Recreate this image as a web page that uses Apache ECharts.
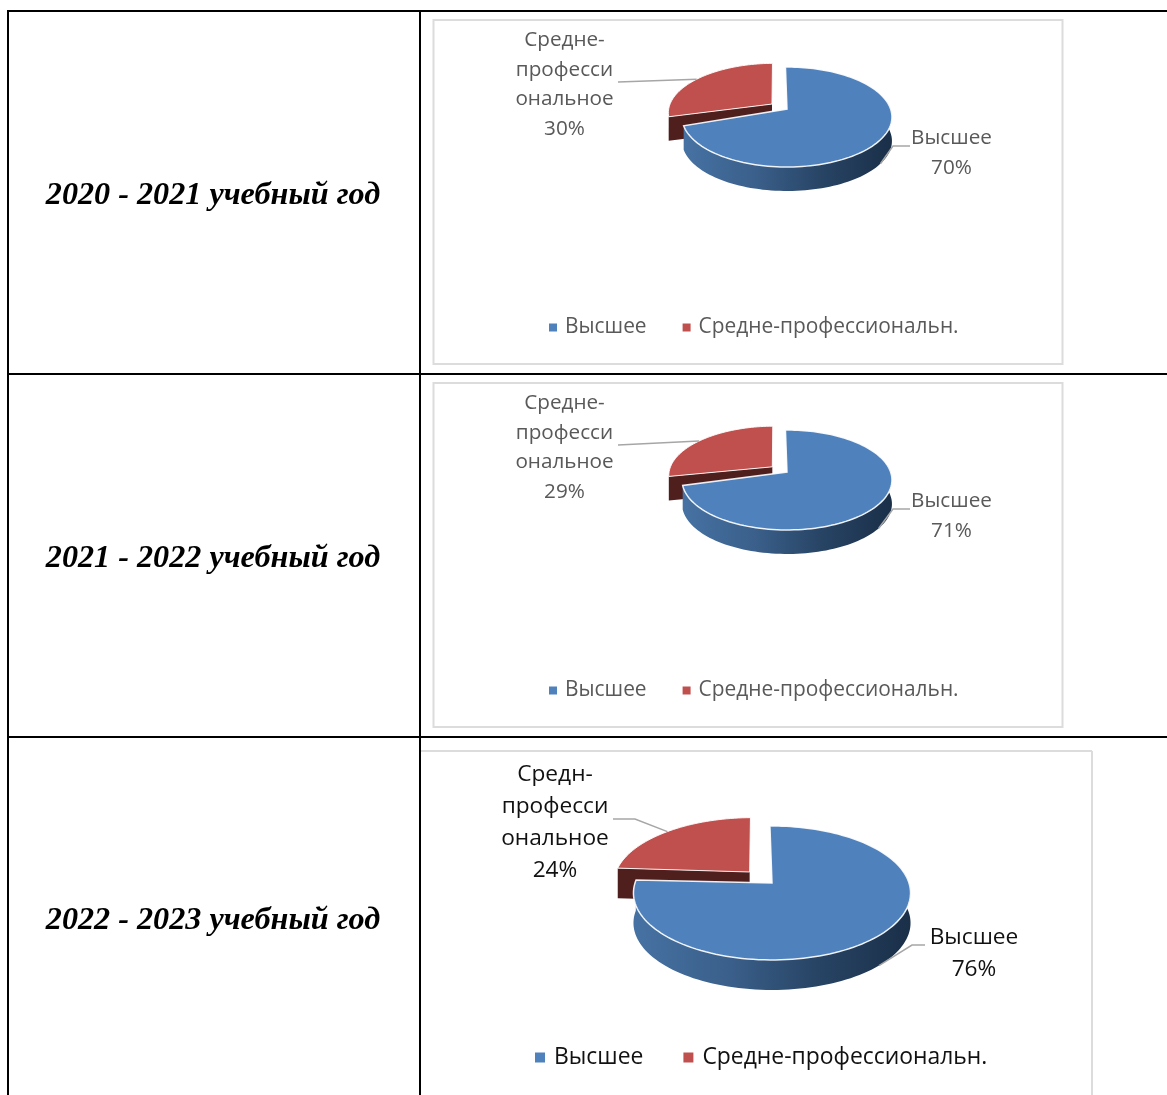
<!DOCTYPE html>
<html><head><meta charset="utf-8">
<style>html,body{margin:0;padding:0;background:#fff;overflow:hidden}#c{width:1167px;height:1095px}</style>
<script src="https://cdn.jsdelivr.net/npm/echarts@6/dist/echarts.min.js"></script>
</head><body><div id="c"></div>
<script>
// ---------- data ----------
const years = ['2020 - 2021 учебный год', '2021 - 2022 учебный год', '2022 - 2023 учебный год'];
const seriesNames = ['Высшее', 'Средне-профессиональн.'];
const higherValues = [70, 71, 76];
const vocationalValues = [30, 29, 24];
const vocationalLabels = [
  ['Средне-', 'професси', 'ональное'],
  ['Средне-', 'професси', 'ональное'],
  ['Средн-', 'професси', 'ональное']
];

// ---------- layout ----------
const small = { ax: 787, ay: 109, a: 103.6, b: 48.7, c: 0.16, depth: 24, explode: 0.18, font: 20.7, lh: 29.4, color: '#595959', redNudge: 4 };
const layouts = [
  Object.assign({}, small, { blueLabel: [951.5, 138.5], redLabel: [564.5, 40.5], blueElbow: [[910, 146], [893, 146]], redElbow: [[618, 82]] }),
  Object.assign({}, small, { ay: 472, blueLabel: [951.5, 501.5], redLabel: [564.5, 403.5], blueElbow: [[910, 509], [893, 509]], redElbow: [[618, 445]] }),
  { ax: 772, ay: 883, a: 137, b: 65.5, c: 0.149, depth: 30, explode: 0.24, font: 22.7, lh: 32, color: '#111111', redNudge: 1,
    blueLabel: [974, 938], redLabel: [555, 775], blueElbow: [[925, 945], [912, 945]], redElbow: [[613, 819], [635, 819]] }
];
const startDeg = -1;
const BLUE = '#4f81bd', RED = '#c0504d', RED_WALL = '#4f1f1e', LEADER = '#a6a6a6';
const FONT = '"Open Sans", sans-serif';
const rad = d => d * Math.PI / 180;

function project(L, u, v, dy) {
  const k = 1 - L.c * v;
  return [L.ax + L.a * u / k, L.ay + L.b * v / k + (dy || 0)];
}
function rimPoint(L, deg, off, dy) {
  return project(L, Math.sin(rad(deg)) + off[0], -Math.cos(rad(deg)) + off[1], dy);
}
function arc(L, from, to, off, dy) {
  const pts = [], n = Math.max(2, Math.ceil(Math.abs(to - from) / 2));
  for (let i = 0; i <= n; i++) pts.push(rimPoint(L, from + (to - from) * i / n, off, dy));
  return pts;
}
function labelChildren(L, lines, pos) {
  return lines.map((t, i) => ({
    type: 'text',
    style: { text: t, x: pos[0], y: pos[1] + i * L.lh, fill: L.color, font: L.font + 'px ' + FONT, textAlign: 'center', textVerticalAlign: 'middle' }
  }));
}
function leader(pts) {
  return { type: 'polyline', shape: { points: pts }, style: { fill: 'none', stroke: LEADER, lineWidth: 1.5 } };
}

function renderHigher(chartIdx) {
  return function (params, api) {
    const L = layouts[chartIdx], value = api.value(0);
    const total = value + vocationalValues[chartIdx];
    const end = startDeg + value / total * 360;
    const off = [0, 0];
    const wallTo = Math.min(end, 272);
    const top = arc(L, 80, wallTo, off, 0);
    const bottom = arc(L, 80, wallTo, off, L.depth).reverse();
    const apex = project(L, 0, 0);
    const face = [apex].concat(arc(L, startDeg, end, off, 0));
    const mid = startDeg + (end - startDeg) / 2;
    const anchor = rimPoint(L, mid, off, L.depth);
    return { type: 'group', children: [
      { type: 'polygon', shape: { points: top.concat(bottom) },
        style: { fill: new echarts.graphic.LinearGradient(0, 0, 1, 0, [
          { offset: 0, color: '#4672a3' }, { offset: 0.35, color: '#3a5f8a' },
          { offset: 0.65, color: '#284566' }, { offset: 1, color: '#1a2f48' }]) } },
      { type: 'polygon', shape: { points: face }, style: { fill: BLUE, stroke: 'rgba(255,255,255,0.9)', lineWidth: 1.5 } },
      leader(L.blueElbow.concat([anchor]))
    ].concat(labelChildren(L, [seriesNames[0], value + '%'], L.blueLabel)) };
  };
}
function renderVocational(chartIdx) {
  return function (params, api) {
    const L = layouts[chartIdx], value = api.value(0);
    const total = value + higherValues[chartIdx];
    const rawStart = startDeg + higherValues[chartIdx] / total * 360;
    const end = startDeg + 360;
    const mid = (rawStart + end) / 2;
    const start = rawStart + L.redNudge;
    const off = [L.explode * Math.sin(rad(mid)), -L.explode * Math.cos(rad(mid))];
    const apex = project(L, off[0], off[1]);
    const apexLow = project(L, off[0], off[1], L.depth);
    const edge = rimPoint(L, start, off, 0);
    const edgeLow = rimPoint(L, start, off, L.depth);
    const face = [apex].concat(arc(L, start, end, off, 0));
    const anchor = rimPoint(L, mid, off, 0);
    return { type: 'group', children: [
      { type: 'polygon', shape: { points: [apex, edge, edgeLow, apexLow] }, style: { fill: RED_WALL } },
      { type: 'polygon', shape: { points: face }, style: { fill: RED, stroke: 'rgba(255,255,255,0.9)', lineWidth: 1 } },
      leader(L.redElbow.concat([anchor]))
    ].concat(labelChildren(L, vocationalLabels[chartIdx].concat([value + '%']), L.redLabel)) };
  };
}

const series = [];
years.forEach((y, i) => {
  series.push({ type: 'custom', coordinateSystem: 'none', name: seriesNames[1], silent: true,
    itemStyle: { color: RED }, renderItem: renderVocational(i), data: [[vocationalValues[i]]] });
  series.push({ type: 'custom', coordinateSystem: 'none', name: seriesNames[0], silent: true,
    itemStyle: { color: BLUE }, renderItem: renderHigher(i), data: [[higherValues[i]]] });
});

const line = (x1, y1, x2, y2, stroke, w) => ({ type: 'line', shape: { x1, y1, x2, y2 }, style: { stroke, lineWidth: w } });
const FRAME = '#dcdcdc';
const legendBase = { orient: 'horizontal', icon: 'rect', selectedMode: false, data: seriesNames, padding: 0 };

const option = {
  animation: false,
  backgroundColor: '#ffffff',
  title: years.map((t, i) => ({
    text: t, left: 213, top: [196, 559, 921][i], textAlign: 'center', textVerticalAlign: 'middle', padding: 0,
    textStyle: { fontFamily: '"Liberation Serif"', fontStyle: 'italic', fontWeight: 'bold', fontSize: 32.2, color: '#000' }
  })),
  legend: [
    Object.assign({}, legendBase, { left: 549, top: 317, itemWidth: 8, itemHeight: 8, itemGap: 36, textStyle: { fontFamily: FONT, fontSize: 20.9, color: '#595959', padding: [0, 0, 0, 3] } }),
    Object.assign({}, legendBase, { left: 549, top: 680, itemWidth: 8, itemHeight: 8, itemGap: 36, textStyle: { fontFamily: FONT, fontSize: 20.9, color: '#595959', padding: [0, 0, 0, 3] } }),
    Object.assign({}, legendBase, { left: 535, top: 1046, itemWidth: 10, itemHeight: 10, itemGap: 40, textStyle: { fontFamily: FONT, fontSize: 22.9, color: '#111', padding: [0, 0, 0, 4] } })
  ],
  graphic: { elements: [
    { type: 'rect', shape: { x: 433.5, y: 20, width: 629, height: 344 }, style: { fill: 'none', stroke: FRAME, lineWidth: 2 } },
    { type: 'rect', shape: { x: 433.5, y: 383, width: 629, height: 344 }, style: { fill: 'none', stroke: FRAME, lineWidth: 2 } },
    line(421, 751, 1092, 751, FRAME, 2),
    line(1092, 751, 1092, 1095, FRAME, 2),
    line(8, 11, 1167, 11, '#000', 2),
    line(8, 374, 1167, 374, '#000', 2),
    line(8, 737, 1167, 737, '#000', 2),
    line(8, 10, 8, 1095, '#000', 2),
    line(420, 10, 420, 1095, '#000', 2)
  ] },
  series
};
const chart = echarts.init(document.getElementById('c'), null, { renderer: 'canvas' });
chart.setOption(option);
</script></body></html>
